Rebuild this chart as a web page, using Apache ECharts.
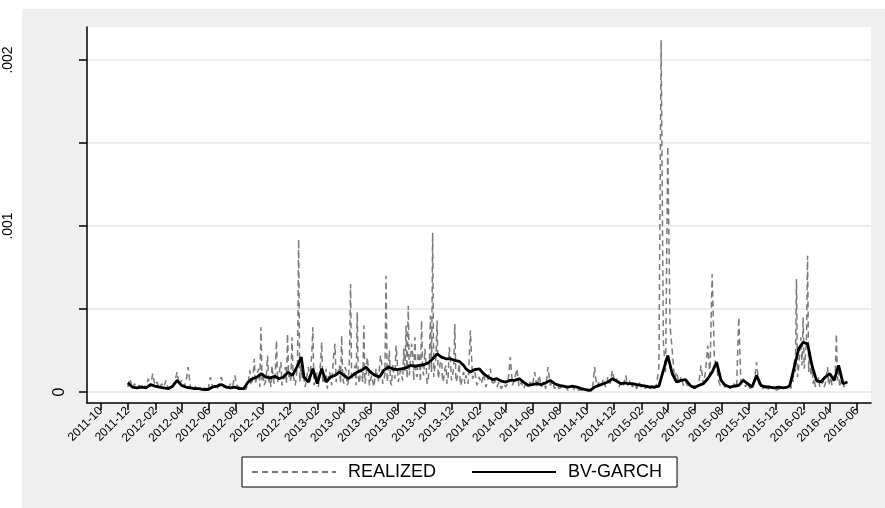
<!DOCTYPE html>
<html>
<head>
<meta charset="utf-8">
<script src="https://cdn.jsdelivr.net/npm/echarts@6/dist/echarts.min.js"></script>
<style>
  html, body { margin: 0; padding: 0; background: #fff; }
  #chart { width: 885px; height: 508px; }
</style>
</head>
<body>
<div id="chart"></div>
<script>
  // values are in units of 1e-4
  // realized: each block starts at its date and steps by its own number of days
  var realized2011 = [0.3, 0.8, 0.2, 0.5, 0.3, 0.4];                       // from 2011-12-01, 5 days
  var realized2012a = [0.3, 0.5, 0.2, 0.8, 0.3, 1.1, 0.4, 0.6, 0.2, 0.5, 0.3, 0.7, 0.2, 0.4, 0.3, 0.6,
    1.2, 0.4, 0.7, 0.3, 0.6, 1.5, 0.3, 0.2, 0.4, 0.15, 0.3, 0.1, 0.2, 0.3, 0.15, 0.9,
    0.3, 0.4, 0.2, 0.5, 0.9, 0.3, 0.4, 0.2, 0.5, 0.3, 1.0, 0.4, 0.3, 0.2, 0.3, 0.15, 0.5]; // from 2012-01-01, 5 days
  var realized2012b = [1.3, 0.4, 0.6, 1.0, 2.0, 0.5, 0.8, 1.2, 1.4, 0.3, 3.9, 0.7, 1.0, 0.4, 0.6, 1.1,
    2.2, 0.5, 0.9, 0.3, 1.6, 0.8, 0.5, 1.2, 3.1, 0.6, 0.9, 1.4, 1.8, 0.4, 0.6, 1.0,
    1.5, 0.5, 3.5, 0.9, 1.2, 0.6, 3.3, 1.1, 0.7, 0.4, 1.0, 1.8, 9.2, 0.6, 1.6, 0.8, 1.2]; // from 2012-09-01, 2.5 days
  var realized2013 = [0.8, 0.3, 0.4, 1.1, 1.5, 0.5, 0.6, 2.2, 3.9, 0.4, 0.5, 1.0, 1.2, 0.3, 0.4, 1.8,
    3.0, 0.5, 0.6, 0.9, 1.4, 0.2, 0.3, 1.2, 0.9, 0.4, 0.4, 2.4, 2.9, 0.6, 0.7, 1.3,
    1.6, 0.5, 3.4, 0.8, 0.5, 1.5, 1.3, 0.4, 0.6, 2.0, 6.5, 0.7, 0.8, 1.2, 1.6, 0.4,
    4.8, 0.9, 0.5, 1.4, 1.1, 0.6, 4.0, 0.5, 0.9, 2.1, 1.5, 0.4, 0.4, 1.0, 1.0, 0.3,
    0.3, 1.4, 1.3, 0.6, 0.5, 2.2, 1.8, 0.5, 0.7, 1.1, 7.0, 0.6, 1.2, 2.5, 0.6, 0.4,
    1.7, 1.0, 0.8, 2.8, 2.0, 0.6, 0.5, 1.3, 1.4, 0.7, 2.6, 1.2, 4.0, 0.8, 5.2, 1.0,
    1.1, 2.9, 2.3, 0.7, 3.3, 1.1, 0.9, 2.4, 2.1, 0.6, 4.3, 1.3, 1.0, 2.6, 1.8, 0.5,
    0.7, 1.5, 4.6, 1.2, 9.6, 0.9, 1.5, 2.1, 4.3, 0.8, 1.2, 1.9, 2.2, 0.6, 0.8, 1.4,
    1.6, 0.5, 0.9, 2.7, 2.0, 0.7, 1.0, 1.5, 4.1, 0.6, 0.8, 1.2, 1.7, 0.4, 0.6, 1.0,
    1.2, 0.5];                                                                  // from 2013-01-01, 2.5 days
  var realized2014 = [1.0, 0.5, 3.7, 0.8, 1.2, 0.4, 0.9, 0.5, 1.1, 0.3, 0.8, 1.4, 0.4, 0.7, 0.3, 0.6,
    0.2, 0.5, 0.3, 0.6, 2.1, 0.4, 0.8, 1.4, 0.3, 0.6, 0.2, 0.5, 0.3, 0.6, 0.4, 1.2,
    0.3, 1.0, 0.3, 0.6, 0.2, 1.5, 0.4, 0.6, 0.2, 0.4, 0.2, 0.3, 0.15, 0.3, 0.1, 0.2,
    0.35, 0.1, 0.2, 0.1, 0.15, 0.05, 0.1, 0.05, 0.1, 0.05, 1.5, 0.3, 0.6, 0.4, 0.8, 0.3,
    0.9, 0.5, 1.3, 0.6, 0.8, 0.3, 0.6, 0.4, 1.0];                               // from 2014-01-01, 5 days
  var realized2015 = [0.4, 0.7, 0.3, 0.5, 0.2, 0.6, 0.3, 0.4, 0.2, 0.5, 0.2, 0.4, 0.2, 0.5, 1.5, 21.2,
    3.0, 1.2, 14.8, 4.0, 2.5, 0.8, 1.2, 0.5, 0.9, 0.4, 0.7, 0.3, 0.5, 0.2, 0.4, 0.3,
    0.6, 1.6, 0.5, 1.2, 2.8, 1.0, 7.1, 2.0, 1.5, 0.6, 0.3, 0.5, 0.2, 0.4, 0.2, 0.3,
    0.5, 0.2, 4.5, 0.4, 0.8, 0.3, 0.6, 0.2, 0.4, 0.6, 1.8, 0.5, 0.3, 0.2, 0.4, 0.15,
    0.3, 0.2, 0.25, 0.1, 0.2, 0.15, 0.3, 0.2, 0.4];                             // from 2015-01-01, 5 days
  var realized2016 = [0.4, 0.2, 1.1, 0.6, 2.0, 1.2, 6.8, 0.9, 1.5, 2.4, 3.3, 1.6, 4.5, 1.4, 2.2, 3.0,
    8.2, 1.2, 2.5, 1.0, 1.8, 0.5, 0.8, 0.3, 0.4, 0.6, 0.9, 0.3, 0.3, 0.5, 0.7, 0.3,
    0.5, 1.0, 1.5, 0.4, 0.6, 0.9, 0.4, 0.3, 0.9, 1.3, 3.5, 0.7, 1.2, 0.3, 0.4, 0.8,
    0.6, 0.3, 0.5, 0.4];                                                        // from 2016-01-01, 2.5 days

  // BV-GARCH: one value every 10 days from the start of each block
  var garch2011 = [0.55, 0.3, 0.25];
  var garch2012 = [0.3, 0.25, 0.45, 0.35, 0.3, 0.25, 0.2, 0.35, 0.7, 0.4, 0.3, 0.25, 0.2, 0.2, 0.15, 0.15,
    0.3, 0.35, 0.45, 0.3, 0.25, 0.3, 0.2, 0.2, 0.6, 0.8, 0.9, 1.1, 0.9, 0.85, 0.95, 0.8,
    0.9, 1.2, 1.0, 1.5, 2.1];
  var garch2013 = [0.9, 0.6, 1.4, 0.5, 1.4, 0.6, 0.9, 1.0, 1.2, 1.0, 0.8, 1.0, 1.2, 1.3, 1.5, 1.2,
    1.0, 0.9, 1.3, 1.5, 1.4, 1.35, 1.4, 1.45, 1.6, 1.55, 1.6, 1.65, 1.75, 2.0, 2.3, 2.1,
    2.0, 2.0, 1.9, 1.85, 1.6];
  var garch2014 = [1.4, 1.2, 1.35, 1.4, 1.1, 0.9, 0.75, 0.8, 0.65, 0.6, 0.7, 0.7, 0.8, 0.6, 0.4, 0.45,
    0.5, 0.45, 0.55, 0.7, 0.5, 0.4, 0.35, 0.3, 0.35, 0.3, 0.2, 0.15, 0.1, 0.3, 0.4, 0.5,
    0.6, 0.8, 0.65, 0.5, 0.55];
  var garch2015 = [0.5, 0.5, 0.45, 0.4, 0.35, 0.3, 0.3, 0.35, 1.3, 2.2, 1.1, 0.6, 0.7, 0.75, 0.4, 0.25,
    0.4, 0.5, 0.8, 1.2, 1.8, 0.7, 0.4, 0.3, 0.35, 0.4, 0.7, 0.5, 0.3, 1.0, 0.4, 0.3,
    0.3, 0.25, 0.3, 0.25, 0.3];
  var garch2016 = [0.4, 1.5, 2.6, 3.0, 2.9, 1.6, 0.7, 0.6, 0.9, 1.1, 0.7, 1.6, 0.5, 0.6];

  var DAY = 86400000;

  function block(y, m, d, step, vals) {
    var t0 = Date.UTC(y, m - 1, d);
    return vals.map(function (v, i) {
      return [t0 + i * step * DAY, v * 1e-4];
    });
  }

  var realized = [].concat(
    block(2011, 12, 1, 5, realized2011),
    block(2012, 1, 1, 5, realized2012a),
    block(2012, 9, 1, 2.5, realized2012b),
    block(2013, 1, 1, 2.5, realized2013),
    block(2014, 1, 1, 5, realized2014),
    block(2015, 1, 1, 5, realized2015),
    block(2016, 1, 1, 2.5, realized2016)
  );
  var garch = [].concat(
    block(2011, 12, 1, 10, garch2011),
    block(2012, 1, 1, 10, garch2012),
    block(2013, 1, 1, 10, garch2013),
    block(2014, 1, 1, 10, garch2014),
    block(2015, 1, 1, 10, garch2015),
    block(2016, 1, 1, 10, garch2016)
  );

  // x ticks: every second month, 2011-10 .. 2016-06
  var monthTicks = [];
  for (var k = 0; k <= 56; k += 2) {
    monthTicks.push(Date.UTC(2011, 9 + k, 1));
  }
  var yTicks = [0, 0.0005, 0.001, 0.0015, 0.002];
  var yLabels = [0, 0.001, 0.002];

  function pad2(n) { return n < 10 ? '0' + n : '' + n; }

  var chart = echarts.init(document.getElementById('chart'));

  var options = {
    animation: false,
    backgroundColor: '#fff',
    textStyle: { fontFamily: 'Liberation Sans' },
    graphic: [{
      type: 'rect',
      silent: true,
      z: -100,
      shape: { x: 22, y: 9, width: 863, height: 499 },
      style: { fill: '#efefef' }
    }],
    grid: {
      left: 87,
      right: 14,
      top: 27,
      bottom: 105,
      show: true,
      backgroundColor: '#fff',
      borderWidth: 0
    },
    xAxis: {
      type: 'value',
      min: Date.UTC(2011, 7, 31),
      max: Date.UTC(2016, 6, 2),
      axisLine: { show: true, onZero: false, lineStyle: { color: '#000', width: 1.5 } },
      axisTick: { show: true, length: 7, customValues: monthTicks, lineStyle: { color: '#000', width: 1.5 } },
      axisLabel: {
        customValues: monthTicks,
        rotate: 45,
        fontSize: 12,
        color: '#000',
        margin: 6,
        formatter: function (value) {
          var d = new Date(value);
          return d.getUTCFullYear() + '-' + pad2(d.getUTCMonth() + 1);
        }
      },
      splitLine: { show: false }
    },
    yAxis: {
      type: 'value',
      min: -0.0000663,
      max: 0.0021988,
      axisLine: { show: true, onZero: false, lineStyle: { color: '#000', width: 1.5 } },
      axisTick: { show: true, length: 8, customValues: yTicks, lineStyle: { color: '#000', width: 1.5 } },
      axisLabel: {
        customValues: yLabels,
        rotate: 90,
        margin: 19,
        color: '#000',
        formatter: function (value) {
          if (value === 0) return '{z|0}';
          return '{f|' + String(value).replace(/^0/, '') + '}';
        },
        rich: {
          z: { fontSize: 16, color: '#000' },
          f: { fontSize: 14, color: '#000', padding: [0, 0, 53, 0] }
        }
      },
      splitLine: { show: true, lineStyle: { color: '#e6e6e6', width: 1.5 } }
    },
    legend: {
      left: 242,
      top: 457,
      padding: [6, 15, 6, 9],
      itemWidth: 84,
      itemHeight: 14,
      itemGap: 35,
      borderColor: '#000',
      borderWidth: 1,
      backgroundColor: '#fff',
      itemStyle: { opacity: 0 },
      textStyle: { fontSize: 18, color: '#000', padding: [0, 0, 0, 7] },
      data: [
        { name: 'REALIZED', textStyle: { width: 106 } },
        { name: 'BV-GARCH', textStyle: { width: 115 } }
      ]
    },
    series: [{
      name: 'REALIZED',
      type: 'line',
      symbol: 'none',
      data: realized,
      lineStyle: { color: '#7a7a7a', width: 1.5, type: [6, 4] },
      itemStyle: { color: '#7a7a7a' }
    }, {
      name: 'BV-GARCH',
      type: 'line',
      symbol: 'none',
      data: garch,
      lineStyle: { color: '#000', width: 2.8 },
      itemStyle: { color: '#000' }
    }]
  };

  chart.setOption(options);
</script>
</body>
</html>
